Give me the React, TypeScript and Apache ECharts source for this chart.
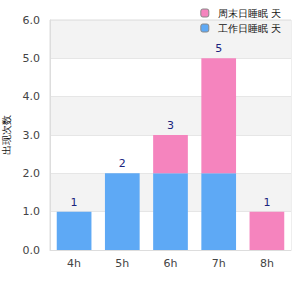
import React, { useEffect, useRef } from "react";
import * as echarts from "echarts";

const categories = ["4h", "5h", "6h", "7h", "8h"];
const blueValues = [1, 2, 2, 2, 0];
const pinkValues = [0, 0, 1, 3, 1];
const blueName = "工作日睡眠 天";
const pinkName = "周末日睡眠 天";
const yAxisName = "出现次数";

export default function App() {
  const ref = useRef<HTMLDivElement>(null);
  useEffect(() => {
    const chart = echarts.init(ref.current!, null, { renderer: "svg" });
    const totals = categories.map((_, i) => blueValues[i] + pinkValues[i]);
    const labelStyle = { position: "top", color: "#1a237e", fontSize: 11, fontFamily: "DejaVu Sans", distance: 4 };
    chart.setOption({
      animation: false,
      textStyle: { fontFamily: "DejaVu Sans" },
      legend: {
        orient: "vertical",
        right: 14,
        top: 3,
        itemWidth: 8,
        itemHeight: 8,
        itemGap: 5,
        data: [pinkName, blueName],
        itemStyle: { borderColor: "#888", borderWidth: 1 },
        textStyle: { fontSize: 10, color: "#111", padding: [0, 0, 0, 4] },
      },
      grid: {
        left: 50,
        right: 9,
        top: 20,
        bottom: 50,
        containLabel: false,
        outerBoundsMode: "none",
        show: true,
        borderColor: "#ddd",
        backgroundColor: "transparent",
      },
      xAxis: {
        type: "category",
        data: categories,
        axisLine: { lineStyle: { color: "#ddd" } },
        axisTick: { show: false },
        axisLabel: { color: "#444", fontSize: 11, margin: 8 },
      },
      yAxis: {
        type: "value",
        min: 0,
        max: 6,
        interval: 1,
        name: yAxisName,
        nameLocation: "middle",
        nameRotate: 90,
        nameGap: 39,
        nameTextStyle: { fontSize: 10, color: "#111" },
        axisLine: { show: true, lineStyle: { color: "#ddd" } },
        axisTick: { show: false },
        axisLabel: { color: "#444", fontSize: 11, margin: 10, formatter: (v: number) => v.toFixed(1) },
        splitLine: { lineStyle: { color: "#e6e6e6" } },
        splitArea: { show: true, areaStyle: { color: ["#ffffff", "#f3f3f3"] } },
      },
      series: [
        {
          name: blueName,
          type: "bar",
          stack: "s",
          barWidth: "72%",
          itemStyle: { color: "#5ea9f5", borderColor: "#888" },
          data: blueValues.map((v, i) => ({
            value: v,
            itemStyle: { color: "#5ea9f5", borderWidth: 0 },
            label: { show: pinkValues[i] === 0 && v > 0, ...labelStyle, formatter: () => String(totals[i]) },
          })),
        },
        {
          name: pinkName,
          type: "bar",
          stack: "s",
          barWidth: "72%",
          itemStyle: { color: "#f584be", borderColor: "#888" },
          data: pinkValues.map((v, i) => ({
            value: v,
            itemStyle: { color: "#f584be", borderWidth: 0 },
            label: { show: v > 0, ...labelStyle, formatter: () => String(totals[i]) },
          })),
        },
      ],
    });
    return () => chart.dispose();
  }, []);
  return <div ref={ref} style={{ position: "absolute", left: 0, top: 0, width: 300, height: 300 }} />;
}
